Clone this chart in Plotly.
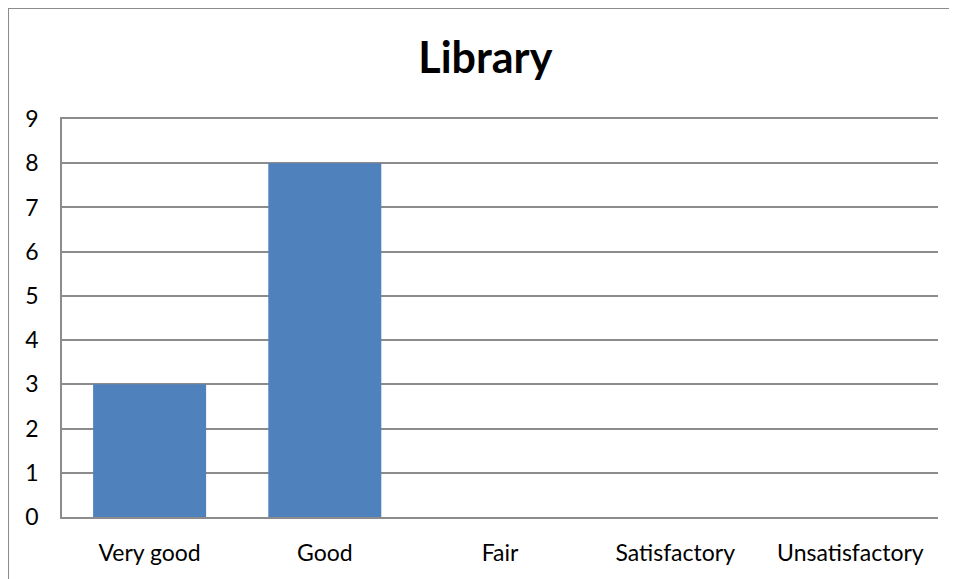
import plotly.graph_objects as go

categories = ["Very good", "Good", "Fair", "Satisfactory", "Unsatisfactory"]
values = [3, 8, 0, 0, 0]
y_ticks = [0, 1, 2, 3, 4, 5, 6, 7, 8, 9]

GRID = "#8c8c8c"
BAR = "#4f81bd"
FONT = "Lato, Carlito, Arial, sans-serif"

fig = go.Figure(
    go.Bar(x=categories, y=values, marker_color=BAR, width=0.645, marker_line_width=0)
)

# page body adds an 8px margin, so the figure is offset by 8px
fig.update_layout(
    width=949, height=571,
    margin=dict(l=54, r=19, t=111, b=62),
    paper_bgcolor="white", plot_bgcolor="white",
    showlegend=False,
    font=dict(family=FONT, size=23, color="#000000"),
    title=dict(
        text="<b>Library</b>", x=0.503, xanchor="center", y=0.912, yanchor="middle",
        font=dict(family=FONT, size=43, color="#000000"),
    ),
)
fig.update_yaxes(
    range=[0, 9], tickvals=y_ticks, showgrid=True, gridcolor=GRID, gridwidth=1.5,
    showline=True, linecolor=GRID, linewidth=1.5, ticks="",
    zeroline=False, ticklabelstandoff=17,
)
fig.update_xaxes(
    showline=True, linecolor=GRID, linewidth=1.5, ticks="", showgrid=False,
    mirror=True, ticklabelstandoff=15,
)

# outer chart border (only left and top edges are visible in the crop)
fig.add_shape(type="line", xref="paper", yref="paper", x0=-0.0616, x1=1.2, y0=1.279, y1=1.279,
              line=dict(color=GRID, width=2))
fig.add_shape(type="line", xref="paper", yref="paper", x0=-0.0616, x1=-0.0616, y0=-0.3, y1=1.279,
              line=dict(color=GRID, width=2))

fig.write_html("out.html")
